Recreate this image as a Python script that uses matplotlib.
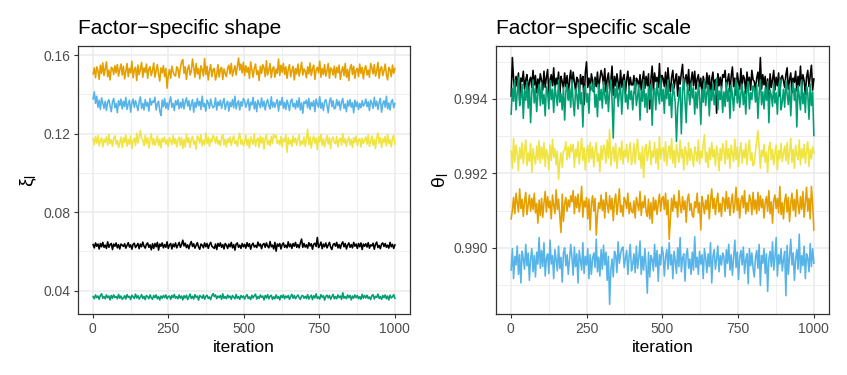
import numpy as np
import matplotlib
matplotlib.use("Agg")
import matplotlib.pyplot as plt
from matplotlib.ticker import FixedLocator

plt.rcParams['font.family'] = ['Liberation Sans', 'DejaVu Sans']
plt.rcParams['mathtext.fontset'] = 'custom'
plt.rcParams['mathtext.rm'] = 'Liberation Sans'
plt.rcParams['mathtext.it'] = 'Liberation Sans:italic'

# ---------------- data ----------------
factors = ["1", "2", "3", "4", "5"]
colors = ["#000000", "#E69F00", "#56B4E9", "#009E73", "#F0E442"]

# shape (xi_l): level + deviations in units of 1.4e-4
shape_unit = 1.4e-4
shape_level = [0.0629, 0.1515, 0.1348, 0.0367, 0.1160]
shape_dev_1 = [4, -8, 10, -2, 6, -12, 8, -4, 12, -6, 2, -10, 14, -6, 4, 8, -14, 6, -2, 10, -8, 4, -12, 6, 2,
               -3, 7, -9, 1, 11, -5, 3, -13, 5, 9, -7, 0, 8, -11, 6, -4, 13, -2, -9, 5, 10, -6, 3, -15, 7,
               -10, 8, -4, 12, -16, 6, -2, 10, -8, 4, -6, 14, -10, 2, 8, -12, 6, -4, 10, -8, 2, 12, -6, 4, 20,
               -1, 9, -7, 3, -11, 5, 15, -3, 7, -9, 1, 11, -5, -13, 6, 2, -8, 10, -4, 8, -10, 4, 12, -2, -6,
               -10, 6, -14, 8, -2, 10, -6, 4, -12, 8, 2, -10, 6, -4, 12, -8, 4, -16, 6, 10, -6, 2, -10, 8, -4,
               5, -9, 11, -3, 7, -13, 3, 9, -5, 1, -7, 13, -1, 6, -11, 4, 8, -6, 10, -2, -8, 15, -4, 2, -12,
               12, -20, 6, -2, 8, -12, 4, 10, -6, 2, -8, 14, -4, 6, -10, 8, -2, 12, -6, 4, -8, 10, 24, -6, 8,
               -5, 3, -9, 11, -1, 7, -13, 5, 9, -3, 30, -7, 1, 13, -11, 6, -4, 10, -8, 2, 12, -6, -14, 4, 8,
               -2, 12, -8, 4, -10, 6, 14, -4, 8, -12, 2, 10, -6, 4, -8, 12, -2, 6, -10, 8, -4, 10, -14, 6, -2,
               7, -5, 11, -9, 3, -1, 9, -13, 5, 13, -7, 1, -11, 6, 10, -3, 8, -6, 2, -9, 12, -4, 5, -10, 3]
shape_dev_2 = [-8, 14, -22, 18, 4, -28, 24, -6, 32, -14, 10, 36, -18, 6, -30, 16, 12, -10, 22, -4, 26, -16, 8, 28, -12,
               20, -26, 2, 30, -18, 12, -4, 38, -22, 6, 16, -32, 24, -10, 8, 34, -20, 14, -2, 28, -24, 10, 18, -14, 4,
               32, -20, 4, 26, -8, -34, 14, -4, 22, -18, 12, -60, -14, 8, -24, 20, 0, -12, -16, 18, 10, -22, 14, 36, 44,
               -6, 18, -28, 10, 24, -12, 2, 46, 16, -20, 30, -8, 12, -26, 22, 6, -16, 48, -10, 20, -30, 4, 26, -18, 8,
               12, -30, -10, 26, -20, 8, 16, -28, 10, -6, -18, 12, 24, -8, 30, -16, 4, 22, -12, 18, 50, 6, 28, -4, 34,
               -14, 22, -2, 16, -24, 36, 8, -20, 12, 28, -10, 4, -32, 20, -6, 26, 14, -18, 40, -12, 6, 30, -22, 10, 18,
               -20, 10, -6, 46, -14, 24, -2, 30, -10, 18, -24, 8, 26, -18, 4, 20, -30, 12, -8, 28, -16, 6, 34, -12, 10,
               2, -22, 18, -8, 32, -14, 10, 24, -28, 6, 16, -4, 38, -20, 12, -10, 26, -16, 4, 30, -24, 14, 8, -12, 20,
               -22, 16, -4, 24, -28, 2, 18, -14, 30, -20, 8, -32, 14, 26, -10, 20, -24, 6, 12, -18, 28, -6, 16, -26, 10,
               22, -12, 6, -20, 30, 14, -8, 26, -16, 2, 34, -24, 10, 18, -14, 4, 28, -10, -30, 16, 8, -18, 24, -6, 12]
shape_dev_3 = [20, 46, 4, 30, -10, 16, -18, 24, 6, -14, 12, -22, 8, 18, -6, -26, 10, 22, -12, 4, -30, 14, -4, 20, -16,
               12, -8, 26, -18, 2, 16, -28, 6, 20, -10, 14, -4, -22, 10, 28, -14, 4, -20, 18, -6, 8, -24, 22, -2, 12,
               8, 26, -20, 2, 12, -24, -40, 16, -8, 22, -14, 6, -18, 10, 28, -10, 4, -22, 14, -2, 18, -16, 8, -12, 20,
               -16, 10, 24, -6, 14, -20, 2, 18, -28, 8, -10, 22, -4, 12, -18, 30, -8, 4, -24, 16, 6, -14, 20, -2, -12,
               -6, 24, -20, 10, -4, 16, -14, 6, 22, -18, 2, 12, -24, 8, -8, 18, -12, 30, -16, 4, 14, -20, 10, -6, 22,
               14, -10, 4, 20, -22, 8, -2, 26, -16, 10, -26, 16, 2, -12, 24, -8, 12, -20, 6, 18, -4, -16, 28, -10, 8,
               -10, 6, 18, -24, 12, -2, 26, -14, 8, -18, 16, 0, -22, 12, 20, -8, 4, -16, 14, -10, 24, -20, 6, -32, 10,
               4, 16, -12, 22, -18, 8, -6, 14, -26, 20, 2, -10, 28, -14, 6, -22, 12, 18, -4, -30, 10, 24, -8, 14, -16,
               -12, 18, -4, 12, -20, 8, 22, -14, 2, -26, 14, -6, 18, -10, 6, -30, 16, -8, 10, -18, 4, -12, 14, -6, 2,
               20, -8, 10, -22, 16, 4, -14, 26, -6, 12, -18, 8, 22, -28, 2, 14, -10, 30, -16, 6, -20, 10, 18, -12, 4]
shape_dev_4 = [2, -6, 8, -2, 4, -8, 6, 12, -4, 2, -6, 8, -2, 4, -10, 6, -4, 8, -2, 2, -6, 10, -4, 4, -8,
               -3, 5, -7, 9, -1, 3, -9, 7, 1, -5, 11, -3, 5, -7, 0, 9, -5, 3, -9, 6, 2, -6, 8, -2, -8,
               6, -2, 8, -6, 2, -10, 4, -4, 6, -2, 8, -6, 2, 4, -8, 6, -2, 10, -4, 2, -6, 8, -4, 4, -10,
               5, -3, 7, -9, 1, 11, -5, 3, -7, 9, -1, 4, -11, 6, 2, -4, 8, -8, 3, 7, -5, 1, -9, 5, 13,
               2, 8, -6, 4, -2, 6, -8, 12, -4, 2, -6, 8, -2, 4, -8, 6, 0, -6, 10, -4, 2, -8, 6, -2, 4,
               -7, 3, 9, -5, 1, -9, 7, -3, 5, 11, -7, 2, -5, 8, -1, 4, -10, 6, -3, 9, -6, 3, 7, -8, 1,
               -6, 8, -4, 2, -10, 6, -2, 8, -6, 4, -2, 6, -8, 2, 10, -4, 6, -6, 2, 8, -2, -8, 4, 6, -4,
               3, -5, 9, -7, 1, 7, -9, 5, -3, 12, -5, 1, -7, 9, -1, 5, -11, 3, 7, -3, 6, -8, 2, 10, -6,
               2, -6, 8, -2, 4, -8, 16, -4, 2, -6, 8, -2, 6, -10, 4, -4, 8, -2, 6, -6, 2, -8, 10, -4, 6,
               -3, 7, -5, 1, -9, 5, 9, -7, 3, -1, 11, -5, 2, -8, 6, -2, 8, -6, 4, -10, 7, -3, 1, 9, -4]
shape_dev_5 = [10, -12, 18, -6, 22, -16, 4, 14, -20, 8, -4, 16, -14, 26, -8, 6, -18, 12, 20, -10, 4, -22, -6, 16, -22,
               14, -4, 24, -18, 8, -10, 20, -26, 2, 12, -14, 30, -6, 18, 40, 10, 4, -16, 22, -8, 14, -24, 6, 28, -12,
               10, -14, 2, 20, -16, 8, -24, 12, -2, 16, -10, 6, -18, 14, 4, -12, 22, -8, 10, -20, 6, 16, -14, 14, -26,
               8, -20, 26, -4, 14, -22, 6, 18, -10, 2, -28, 20, 12, -6, 24, -16, 4, -12, 30, -8, 16, -18, 10, -2, 22,
               12, -6, 18, -10, 4, -16, 14, 24, -12, 8, -20, 10, -4, 16, -14, 6, 20, -8, 2, -18, 12, 30, -10, 6, -16,
               -4, 22, -14, 8, -24, 16, 2, -10, 28, -18, 6, 12, -22, 20, -6, 14, -28, 10, 24, -12, 4, -16, 18, -8, 26,
               14, 22, -8, 4, -12, 18, -20, 10, 0, 24, -40, 14, -10, 6, -18, 20, -4, 12, -14, 8, 24, -16, 2, -10, 16,
               -18, 8, 44, -12, 16, -24, 6, 20, -6, 12, -30, 18, -2, 26, -14, 10, -20, 4, 22, -10, 14, -26, 8, 16, -4,
               -8, 18, -20, 6, 12, -14, 28, -6, 10, -18, 4, 16, -12, 8, -22, 14, -4, 20, -16, 6, 10, -20, 12, -8, 4,
               16, -10, 24, -18, 2, 20, -14, 8, -26, 12, 30, -6, 14, -22, 10, -4, 18, -16, 26, -8, 6, -20, 12, 22, -10]

# scale (theta_l): level + deviations in units of 1.15e-5
scale_unit = 1.15e-5
scale_level = [0.99442, 0.99112, 0.98963, 0.99405, 0.99248]
scale_dev_1 = [-30, 60, 10, -20, 16, -8, 24, -40, 12, 4, 28, -14, 8, 20, -26, 6, 14, -10, 30, -4, 18, -22, 10, -6, 22,
               6, -16, 28, -10, 14, 32, -24, 8, 20, -6, 36, -18, 12, -2, 26, -30, 16, 4, -12, 24, -8, 18, -36, 10, 30,
               -12, 26, 4, -18, 14, 8, -32, 20, -2, 16, -50, 24, 50, -10, 12, -16, 22, 6, -20, 14, -8, 26, -14, 10, 30,
               18, -4, 34, -20, 10, 24, -14, 6, 40, -28, 16, -6, 22, 2, -16, 30, -10, 12, 20, -24, 8, 28, -12, 14, -4,
               -4, 18, -24, 12, 6, -10, 20, -16, 8, 28, -12, 16, -6, 22, -60, 10, 40, -18, 24, 4, 14, -10, 46, -22, 18,
               12, -8, 26, -16, 36, 2, -20, 14, 30, -12, 8, 22, -30, 16, -2, 24, 44, -14, 10, 20, -6, 32, -18, 6, 26,
               -6, 28, -14, 10, 20, -8, 12, -26, 16, 2, -12, 24, -4, 18, -30, 10, 26, -16, 8, -70, 22, -6, 14, -12, 20,
               14, 30, -10, 6, 22, -20, 16, 38, -8, 12, -28, 24, 4, -14, 34, -6, 18, 10, -24, 26, -2, 14, -16, 30, 8,
               4, -18, 12, 26, -8, 60, -14, 20, -4, 16, -24, 10, -40, 22, -10, 8, 30, -16, 14, -6, 24, -30, 12, 18, 6,
               -10, 20, 36, -14, 8, 24, -22, 12, 2, 28, -18, 16, -6, 40, -12, 20, 6, -26, 14, 30, -8, 18, 42, -16, 10]
scale_dev_2 = [-30, -10, 20, -18, 30, 8, -14, 40, -6, 16, -24, 10, 32, -20, 4, 26, -12, 18, -8, 30, -16, 6, -40, 14, -22,
               18, -26, 8, 34, -14, 22, -4, 12, -30, 26, 2, -18, 38, -8, 16, -22, -62, 28, -36, 6, 20, -12, 14, -2, 24,
               10, 36, -18, 22, -4, 28, -14, 8, 46, -26, 12, -2, 20, -30, 16, -56, 6, 24, -12, 18, -68, -20, 8, -6, 26,
               -10, 14, -28, 32, 4, -16, 24, -8, 18, -34, 10, 28, -20, 6, 40, -14, 2, -24, 20, 12, -6, 30, -18, 8, -12,
               -16, 12, -28, 20, 4, -10, 34, -22, 10, -4, 24, -14, -24, 16, -30, 8, -40, 20, -10, 14, -20, 6, 28, -12, 18,
               22, -8, 30, -20, 14, -78, -32, 18, -12, 26, -4, 10, -26, 36, 2, -16, 22, -8, 12, -38, 16, 28, -10, 6, -22,
               -26, 10, -4, 30, -16, 8, -56, 22, 4, -18, 14, -8, 26, -30, 12, 40, -6, 18, -20, 10, 30, -14, 6, -24, 20,
               16, -12, 34, -6, 20, -22, 10, 28, -16, 4, 44, -10, 18, -28, 12, 24, -4, 36, -18, 8, -12, 26, 14, -20, 32,
               -8, 14, -18, 32, -10, 24, -4, 16, -28, 8, 22, -12, 36, -18, 10, -40, 14, 26, -6, 18, -16, 46, -20, 8, -30,
               12, 28, -14, 20, -36, 6, 30, -10, 16, -24, 38, 4, -18, 22, -8, 34, -26, 10, 44, -12, 18, -30, 46, 6, -56]
scale_dev_3 = [-20, 30, -40, 12, -8, 36, -30, 16, -50, 24, 6, -18, 40, -10, 20, -44, 8, 30, -24, 14, -36, 22, -6, 56, -16,
               26, -12, 44, -34, 8, 18, -28, 50, -6, 14, -40, 28, 4, -22, 36, -16, 10, -48, 20, 32, -10, 16, -30, 6, 40,
               10, -32, 34, -12, 18, -50, 26, 4, -20, 44, -28, 12, -8, 30, -40, 16, -30, 8, 20, -14, 52, -24, 10, -34, 28,
               -18, 38, -8, 22, -44, 12, -100, -20, 6, -36, 24, 14, -26, 46, -4, 18, 30, 34, -14, 8, 26, -30, 12, 40, -22,
               -6, 18, -26, 36, -16, 8, 48, -30, 12, -20, 30, -10, -74, 22, -36, 14, 4, -22, 40, -12, 26, -46, 16, -8, 34,
               20, -34, 10, 28, -18, 44, -8, 16, -40, 24, 2, -28, 32, -12, 56, -24, 8, 18, -46, 14, 30, -16, 6, -30, 22,
               -20, 58, -14, 10, -30, 24, -6, 16, -40, 30, 8, -26, 18, -12, 44, -50, 12, 28, -18, 6, 36, -24, 14, -8, 20,
               12, -36, 28, -4, 40, -20, 16, -32, 8, 50, -14, 22, -42, 10, 26, -8, 34, -28, 4, 18, -52, 30, -10, 20, -16,
               -36, 10, 26, -16, 40, -56, 14, -4, 30, -28, 18, -70, 6, 24, -12, 46, -20, 10, 56, -34, 16, -6, 30, -22, 4,
               24, -80, 38, -30, 12, 52, -8, 20, -44, 6, 28, -18, 64, -26, 14, -10, 36, -40, 18, 8, -24, 42, -12, 30, -4]
scale_dev_4 = [-40, 20, -10, 40, -30, 10, 46, -20, 0, 30, -50, 16, -8, 36, -26, 24, -60, 12, 40, -14, 20, -34, 8, 30, -20,
               34, -16, 6, -44, 24, 12, -28, 38, -6, 18, -36, 26, 2, -20, 40, -12, 8, -30, 22, -54, 14, 30, -8, 20, -24,
               40, -10, -44, 18, 6, -28, 34, -16, 10, -70, 20, 26, -12, 8, -38, 30, 22, 14, 40, -24, 6, -46, 30, -8, 18,
               -26, 36, 4, -16, 28, -34, 12, 40, -8, -96, 20, -2, 32, -22, 10, 24, -40, 16, 38, -12, 6, -28, 26, -6, 14,
               -30, 12, 36, -20, 2, 28, -54, 16, -10, 40, -24, 8, -36, 24, -6, 30, -66, 14, 20, -30, 34, 6, -16, 44, -10,
               18, -38, 26, -4, 40, -20, 8, -48, 30, 12, -14, -104, -26, 2, 22, -86, 16, 42, -8, -60, 28, 10, -18, 32, -2,
               22, -40, 12, -26, 30, 4, -64, 18, -12, 38, -20, 10, 26, -44, 16, -8, 32, -18, 6, 44, -30, 14, -6, 24, -36,
               12, -22, 34, -10, 20, -50, 28, 6, -32, 16, 40, -14, 24, -24, 8, 30, -18, 14, -40, 20, 36, -28, 10, -6, 26,
               20, -12, 30, -50, 8, 40, -18, 12, -28, 22, -8, 36, -60, 16, 4, -22, 32, -14, 10, -40, 24, 40, -30, -12, 18,
               -24, 38, 6, -18, 28, -44, 14, 34, -8, 20, -70, 26, 2, -30, 40, -16, 10, -36, 24, 8, -52, 30, -20, 12, -90]
scale_dev_5 = [10, -30, 40, -16, 24, 4, -36, 18, -8, 30, -20, 12, 36, -24, 6, -14, 28, -40, 16, -6, -20, 22, -10, 34, -18,
               20, -8, 30, -26, 14, 2, -34, 24, -12, 38, -4, 16, -22, 10, -56, -16, 6, -28, 10, 12, 32, -10, 20, -6, 26,
               8, 26, -28, 14, -4, 32, -20, 10, 40, -12, 18, -34, 6, 24, -16, 30, -8, 20, -26, 12, 30, -14, 4, -38, 22,
               -10, 24, 14, -18, 36, -6, 60, -24, 8, 20, -14, 28, -30, 4, 18, -10, 34, -20, 12, -4, 26, -16, 10, 30, -22,
               -6, 28, -20, 16, 38, -10, 6, -30, 20, -52, 14, 26, -12, 8, 34, -22, 10, -4, 30, -18, 16, -32, 44, -8, 12,
               18, -14, 32, -24, 6, 22, -8, 40, -18, 12, -28, 26, 2, -16, 36, -6, 14, -34, 20, 8, -22, 30, -12, 16, -2,
               -26, 20, 6, -14, 36, -20, 10, -6, 26, 48, -16, 8, -28, 18, -10, 30, -4, 14, -24, 22, 4, -36, 16, -12, 28,
               12, -20, 34, -8, 16, -30, 24, 4, -14, 38, -10, 20, -26, 8, 30, -18, 12, -6, 28, -22, 14, 36, -12, 6, -24,
               -18, 10, 34, 58, 20, -30, 12, -2, 26, -16, 8, -40, 18, 30, -10, 14, -22, 6, 24, -34, 12, -8, 28, -14, 4,
               22, -12, 30, -20, 8, 40, -16, 14, -30, 24, 2, -10, 36, -22, 16, -6, 26, -18, 10, 32, -26, 14, -8, 20, 6]

shape_devs = [shape_dev_1, shape_dev_2, shape_dev_3, shape_dev_4, shape_dev_5]
scale_devs = [scale_dev_1, scale_dev_2, scale_dev_3, scale_dev_4, scale_dev_5]

x_ticks = [0, 250, 500, 750, 1000]
shape_ticks = [0.04, 0.08, 0.12, 0.16]
shape_tick_labels = ["0.04", "0.08", "0.12", "0.16"]
scale_ticks = [0.990, 0.992, 0.994]
scale_tick_labels = ["0.990", "0.992", "0.994"]

# ---------------- figure ----------------
W, H = 847, 375
fig = plt.figure(figsize=(W / 100, H / 100), dpi=100)
ax1 = fig.add_axes([78 / W, (H - 314) / H, (410 - 78) / W, (314 - 46) / H])
ax2 = fig.add_axes([496 / W, (H - 314) / H, (829 - 496) / W, (314 - 46) / H])


def style(ax, yticks, ylabels, yminor, ylim, title, ylabel):
    ax.set_xlim(-49, 1050)
    ax.set_ylim(*ylim)
    ax.set_xticks(x_ticks)
    ax.set_xticklabels([str(t) for t in x_ticks])
    ax.set_yticks(yticks)
    ax.set_yticklabels(ylabels)
    ax.xaxis.set_minor_locator(FixedLocator([125, 375, 625, 875]))
    ax.yaxis.set_minor_locator(FixedLocator(yminor))
    ax.grid(True, which='major', color='#EBEBEB', lw=1.1, zorder=0)
    ax.grid(True, which='minor', color='#EBEBEB', lw=0.55, zorder=0)
    ax.set_axisbelow(True)
    ax.tick_params(which='major', length=3, width=0.8, color='#333333',
                   labelcolor='#4D4D4D', labelsize=10, pad=2.5)
    ax.tick_params(which='minor', length=0)
    for s in ax.spines.values():
        s.set_color('#333333')
        s.set_linewidth(0.9)
    ax.set_title(title, loc='left', fontsize=15, pad=9, color='black')
    ax.set_xlabel('iteration', fontsize=12.5, labelpad=3)
    ax.set_ylabel(ylabel, fontsize=14, labelpad=3)


for lvl, dev, c in zip(shape_level, shape_devs, colors):
    y = lvl + shape_unit * np.asarray(dev, dtype=float)
    x = np.linspace(1, 1000, len(y))
    ax1.plot(x, y, color=c, lw=1.15, zorder=2)

for lvl, dev, c in zip(scale_level, scale_devs, colors):
    y = lvl + scale_unit * np.asarray(dev, dtype=float)
    x = np.linspace(1, 1000, len(y))
    ax2.plot(x, y, color=c, lw=1.15, zorder=2)

style(ax1, shape_ticks, shape_tick_labels, [0.06, 0.10, 0.14], (0.0281, 0.1646),
      'Factor\u2212specific shape', r'$\mathrm{\xi_l}$')
style(ax2, scale_ticks, scale_tick_labels, [0.989, 0.991, 0.993, 0.995], (0.98822, 0.99542),
      'Factor\u2212specific scale', r'$\mathrm{\theta_l}$')

fig.savefig('out.png', dpi=100)
